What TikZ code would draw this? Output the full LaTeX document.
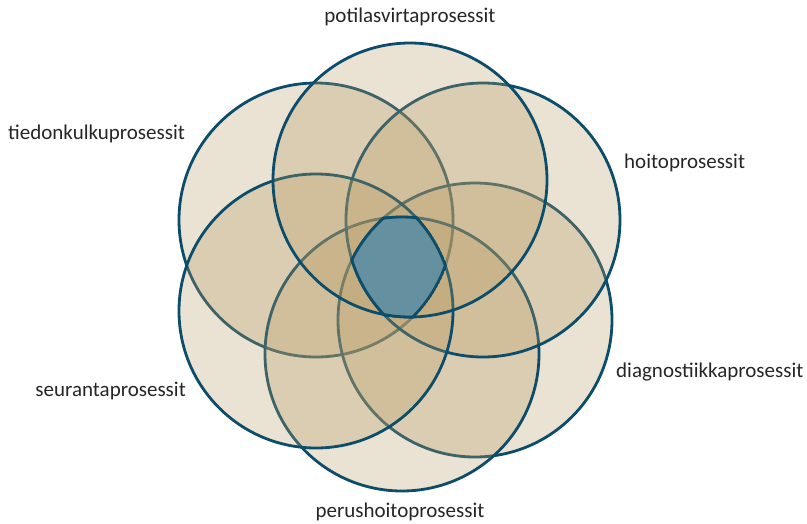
\documentclass[tikz,border=0pt]{standalone}
\usepackage{fontspec}
\setmainfont{Carlito}
\definecolor{ringline}{HTML}{0B4D6B}
\definecolor{ringfill}{RGB}{183,155,100}
\definecolor{coreblue}{HTML}{65909F}
\definecolor{labeltext}{HTML}{262626}

\begin{document}
\begin{tikzpicture}[x=1pt,y=-1pt,
        ring/.style={fill=ringfill,fill opacity=0.29,draw=ringline,line width=2.8pt},
        lbl/.style={text=labeltext,font=\fontsize{21}{25}\selectfont,inner sep=0pt}]
        \useasboundingbox (0,0) rectangle (807,523);
        \coordinate (tl) at (316,220);
        \coordinate (tr) at (483,220);
        \coordinate (t) at (410,180);
        \coordinate (bl) at (316,311);
        \coordinate (br) at (475,320);
        \coordinate (b) at (402,354);
        \foreach \c in {tl,br,b,tr,bl,t}
            \draw[ring] (\c) circle[radius=137pt];
        \begin{scope}
            \foreach \c in {tl,br,b,tr,bl,t}
                \clip (\c) circle[radius=137pt];
            \fill[coreblue] (300,150) rectangle (500,400);
        \end{scope}
        \begin{scope}
            \foreach \c in {tl,br,b,tr,bl,t}
                \clip (\c) circle[radius=138.5pt];
            \foreach \c in {tl,br,b,tr,bl,t}
                \draw[ringline,line width=2.8pt] (\c) circle[radius=137pt];
        \end{scope}
        \node[lbl] (potilas) at (410,17) {potilasvirtaprosessit};
        \node[lbl,anchor=west] (tiedon) at (8,134) {tiedonkulkuprosessit};
        \node[lbl,anchor=west] (hoito) at (624,163) {hoitoprosessit};
        \node[lbl,anchor=west] (diagn) at (616,372) {diagnostiikkaprosessit};
        \node[lbl,anchor=east] (seuranta) at (186,391) {seurantaprosessit};
        \node[lbl] (perushoito) at (400,512) {perushoitoprosessit};
    \end{tikzpicture}
\end{document}
